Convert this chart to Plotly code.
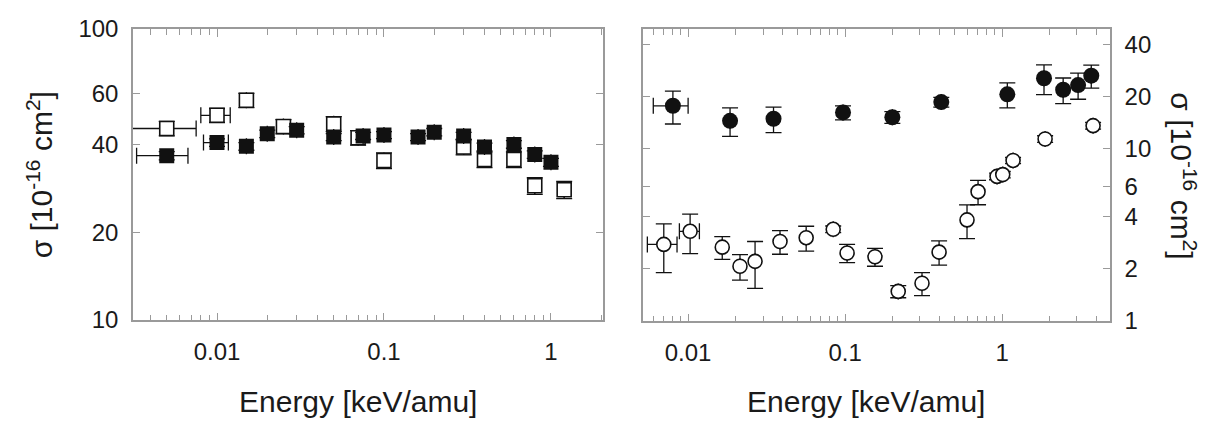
import plotly.graph_objects as go
import math

# ---------------- data ----------------
# Left panel: filled squares
L_fill_x = [0.005, 0.01, 0.015, 0.02, 0.03, 0.05, 0.075, 0.1, 0.16, 0.2, 0.3, 0.4, 0.6, 0.8, 1.0]
L_fill_y = [36.7, 40.7, 39.5, 43.6, 44.9, 42.5, 42.9, 43.2, 42.5, 44.2, 42.9, 39.3, 40.1, 37.0, 34.8]
L_fill_yerr = [1.2, 1.2, 1.2, 1.3, 1.3, 1.2, 1.2, 1.2, 1.2, 1.3, 1.2, 1.2, 1.2, 1.1, 1.1]
L_fill_xerr = [0.0017, 0.0017, 0, 0, 0, 0, 0, 0, 0, 0, 0, 0, 0, 0, 0]

# Left panel: open squares
L_open_x = [0.005, 0.01, 0.015, 0.025, 0.05, 0.07, 0.1, 0.3, 0.4, 0.6, 0.8, 1.2]
L_open_y = [45.5, 50.5, 56.9, 46.2, 47.2, 42.3, 35.3, 39.3, 35.6, 35.6, 28.9, 28.0]
L_open_yerr = [2.6, 2.8, 3.2, 2.6, 2.8, 2.4, 2.2, 2.4, 2.2, 2.2, 1.9, 1.9]
L_open_xerr = [0.0025, 0.002, 0, 0, 0, 0, 0, 0, 0, 0, 0, 0]

# Right panel: filled circles
R_fill_x = [0.008, 0.0185, 0.035, 0.097, 0.2, 0.41, 1.08, 1.85, 2.45, 3.05, 3.7]
R_fill_y = [17.6, 14.4, 14.8, 16.1, 15.1, 18.5, 20.5, 25.4, 21.8, 23.2, 26.3]
R_fill_yerr = [3.8, 2.7, 2.5, 1.5, 1.2, 1.2, 3.4, 5.0, 3.7, 4.0, 4.0]
R_fill_xerr = [0.002, 0, 0, 0, 0, 0, 0, 0, 0, 0, 0]

# Right panel: open circles
R_open_x = [0.007, 0.0103, 0.0165, 0.0214, 0.0267, 0.0385, 0.0565, 0.084, 0.103, 0.155,
            0.218, 0.309, 0.397, 0.598, 0.703, 0.929, 1.01, 1.175, 1.88, 3.80]
R_open_y = [2.77, 3.30, 2.67, 2.07, 2.21, 2.88, 3.03, 3.39, 2.47, 2.35,
            1.48, 1.65, 2.50, 3.84, 5.6, 6.86, 7.03, 8.49, 11.3, 13.5]
R_open_yerr = [0.87, 0.85, 0.40, 0.35, 0.67, 0.45, 0.50, 0.15, 0.30, 0.28,
               0.12, 0.25, 0.40, 0.85, 0.90, 0.30, 0.30, 0.35, 0.50, 0.60]
R_open_xerr = [0.0015, 0.0015, 0, 0, 0, 0, 0, 0, 0, 0, 0, 0, 0, 0, 0, 0, 0, 0, 0, 0]

L_xticks = [0.01, 0.1, 1]
L_xticktext = ["0.01", "0.1", "1"]
L_yticks = [10, 20, 40, 60, 100]
R_xticks = [0.01, 0.1, 1]
R_xticktext = ["0.01", "0.1", "1"]
R_yticks = [1, 2, 4, 6, 10, 20, 40]

X_TITLE = "Energy [keV/amu]"
Y_TITLE = "σ [10<sup>-16</sup> cm<sup>2</sup>]"

# ---------------- styling ----------------
W, H = 1225, 437
FONT = "Liberation Sans, Arial, Helvetica, sans-serif"
TXT = "#1a1a1a"
FRAME = "#9a9a9a"
MK = "#111111"


def px_x(p):
    return p / W


def px_y(p):
    return 1 - p / H


def minor_vals(lo, hi):
    vals = []
    for e in range(-4, 2):
        for m in range(2, 10):
            v = m * 10 ** e
            if lo < v < hi:
                vals.append(v)
    return vals


fig = go.Figure()


def add(x, y, xerr, yerr, symbol, size, filled, xa, ya):
    fig.add_trace(go.Scatter(
        x=x, y=y, mode="markers", xaxis=xa, yaxis=ya, showlegend=False,
        marker=dict(symbol=symbol, size=size,
                    color=MK if filled else "white",
                    line=dict(color=MK, width=0 if filled else 1.6)),
        error_y=dict(type="data", array=yerr, visible=True, color=MK,
                     thickness=1.3, width=8),
        error_x=dict(type="data", array=xerr, visible=True, color=MK,
                     thickness=1.3, width=8),
    ))


add(L_open_x, L_open_y, L_open_xerr, L_open_yerr, "square", 14, False, "x", "y")
add(L_fill_x, L_fill_y, L_fill_xerr, L_fill_yerr, "square", 15, True, "x", "y")
add(R_open_x, R_open_y, R_open_xerr, R_open_yerr, "circle", 14, False, "x2", "y2")
add(R_fill_x, R_fill_y, R_fill_xerr, R_fill_yerr, "circle", 16, True, "x2", "y2")

tickfont = dict(family=FONT, size=24, color=TXT)
common = dict(type="log", showline=True, linecolor=FRAME, linewidth=1.5, mirror="ticks",
              ticks="inside", ticklen=7, tickcolor=FRAME, tickwidth=1,
              showgrid=False, zeroline=False, tickfont=tickfont, tickmode="array")

L_xr = [math.log10(0.00314), math.log10(2.05)]
R_xr = [math.log10(0.00516), math.log10(4.87)]


def top_axis(overlay, xr, majors):
    return dict(type="log", overlaying=overlay, side="top", range=xr, anchor="free",
                position=px_y(16), showline=False, ticks="inside", ticklen=7,
                tickcolor=FRAME, tickwidth=1, showticklabels=False, showgrid=False,
                zeroline=False, tickmode="array", tickvals=majors,
                minor=dict(ticks="inside", ticklen=5, tickcolor=FRAME, tickmode="array",
                           tickvals=minor_vals(10 ** xr[0], 10 ** xr[1]), showgrid=False))


fig.update_layout(
    width=W, height=H,
    margin=dict(l=0, r=0, t=0, b=0),
    paper_bgcolor="white", plot_bgcolor="white",
    font=dict(family=FONT, color=TXT),
    xaxis=dict(domain=[px_x(133), px_x(603)], range=L_xr, anchor="y",
               tickvals=L_xticks, ticktext=L_xticktext, ticklabelstandoff=10,
               minor=dict(ticks="inside", ticklen=5, tickcolor=FRAME, tickmode="array",
                          tickvals=minor_vals(10 ** L_xr[0], 10 ** L_xr[1]), showgrid=False),
               **common),
    yaxis=dict(domain=[px_y(326), px_y(16)], range=[1, 2], anchor="x",
               tickvals=L_yticks, ticktext=[str(v) for v in L_yticks], ticklabelstandoff=8,
               **common),
    xaxis2=dict(domain=[px_x(643), px_x(1110)], range=R_xr, anchor="y2",
                tickvals=R_xticks, ticktext=R_xticktext, ticklabelstandoff=10,
                minor=dict(ticks="inside", ticklen=5, tickcolor=FRAME, tickmode="array",
                           tickvals=minor_vals(10 ** R_xr[0], 10 ** R_xr[1]), showgrid=False),
                **common),
    yaxis2=dict(domain=[px_y(327), px_y(16)], range=[0, math.log10(49)], anchor="x2",
                side="right", tickvals=R_yticks, ticktext=[str(v) for v in R_yticks],
                ticklabelstandoff=8, **common),
    xaxis3=top_axis("x", L_xr, L_xticks),
    xaxis4=top_axis("x2", R_xr, R_xticks),
    annotations=[
        dict(text=Y_TITLE, x=px_x(40), y=px_y(172), xref="paper", yref="paper",
             textangle=-90, showarrow=False, font=dict(family=FONT, size=30, color=TXT),
             xanchor="center", yanchor="middle"),
        dict(text=Y_TITLE, x=px_x(1183), y=px_y(172), xref="paper", yref="paper",
             textangle=90, showarrow=False, font=dict(family=FONT, size=30, color=TXT),
             xanchor="center", yanchor="middle"),
        dict(text=X_TITLE, x=px_x(358), y=px_y(413), xref="paper", yref="paper",
             showarrow=False, font=dict(family=FONT, size=30, color=TXT),
             xanchor="center", yanchor="middle"),
        dict(text=X_TITLE, x=px_x(866), y=px_y(413), xref="paper", yref="paper",
             showarrow=False, font=dict(family=FONT, size=30, color=TXT),
             xanchor="center", yanchor="middle"),
    ],
)

# invisible traces to activate the top tick axes
fig.add_trace(go.Scatter(x=[0.01], y=[50], xaxis="x3", yaxis="y", mode="markers",
                         marker=dict(opacity=0), showlegend=False, hoverinfo="skip"))
fig.add_trace(go.Scatter(x=[0.01], y=[10], xaxis="x4", yaxis="y2", mode="markers",
                         marker=dict(opacity=0), showlegend=False, hoverinfo="skip"))

fig.write_html("out.html")
